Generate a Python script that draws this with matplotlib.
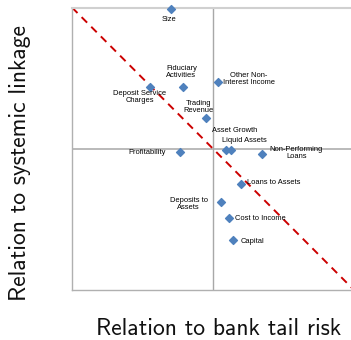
import numpy as np
import matplotlib
matplotlib.use("Agg")
import matplotlib.pyplot as plt

# factor positions: relation to tail risk (x) and to systemic linkage (y)
names = ["Size", "Fiduciary\nActivities", "Deposit Service\nCharges", "Trading\nRevenue",
         "Other Non-\nInterest Income", "Asset Growth", "Liquid Assets",
         "Non-Performing\nLoans", "Profitability", "Loans to Assets",
         "Deposits to\nAssets", "Cost to Income", "Capital"]
tail_risk = [-0.30, -0.21, -0.447, -0.05, 0.033, 0.09, 0.125, 0.35, -0.232, 0.196, 0.055, 0.113, 0.142]
linkage = [0.99, 0.44, 0.44, 0.22, 0.473, -0.007, -0.012, -0.035, -0.021, -0.248, -0.378, -0.487, -0.648]

# label placement: offset in pixels from the marker, horizontal alignment
label_pos = {
    "Size": (-2, -11, "center"),
    "Fiduciary\nActivities": (-2, 15, "center"),
    "Deposit Service\nCharges": (-10, -10, "center"),
    "Trading\nRevenue": (-7, 11, "center"),
    "Other Non-\nInterest Income": (31, 3, "center"),
    "Asset Growth": (9, 19, "center"),
    "Liquid Assets": (14, 10, "center"),
    "Non-Performing\nLoans": (34, 1, "center"),
    "Profitability": (-15, -1, "right"),
    "Loans to Assets": (6, 1, "left"),
    "Deposits to\nAssets": (-32, -2, "center"),
    "Cost to Income": (6, -1, "left"),
    "Capital": (8, -1, "left"),
}

fig = plt.figure(figsize=(3.51, 3.40), dpi=100)
ax = fig.add_axes([72/351, 50/340, 282/351, 282.5/340])

ax.set_xlim(-1, 1)
ax.set_ylim(-1, 1)

# quadrant lines
ax.axhline(0, color="#b4b4b4", lw=1.3, zorder=1)
ax.axvline(0, color="#a8a8a8", lw=1.0, zorder=1)

# 45 degree reference line
ax.plot([-1, 1], [1, -1], color="#cc0000", lw=1.4, ls=(0, (4, 3)), zorder=2)

ax.scatter(tail_risk, linkage, marker="D", s=16, color="#4f81bd", zorder=3, clip_on=False)

for name, x, y in zip(names, tail_risk, linkage):
    dx, dy, ha = label_pos[name]
    ax.annotate(name, (x, y), xytext=(dx, dy), textcoords="offset pixels",
                ha=ha, va="center", fontsize=5.4, linespacing=1.0,
                family=["Liberation Sans Narrow", "Liberation Sans"], zorder=4)

ax.set_xticks([])
ax.set_yticks([])
for side in ["left", "bottom"]:
    ax.spines[side].set_color("#b0b0b0")
    ax.spines[side].set_linewidth(1.0)
ax.spines["top"].set_color("#d0d0d0")
ax.spines["top"].set_linewidth(1.5)
ax.spines["right"].set_visible(False)

ax.set_xlabel("Relation to bank tail risk", fontsize=17, color="#111111",
              family=["cmss10", "DejaVu Sans"], va="baseline")
ax.set_ylabel("Relation to systemic linkage", fontsize=17, color="#111111",
              family=["cmss10", "DejaVu Sans"], va="baseline")
ax.xaxis.set_label_coords(0.52, -45/282.5)
ax.yaxis.set_label_coords(-46/282, 0.45)

fig.savefig("out.png", dpi=100)
